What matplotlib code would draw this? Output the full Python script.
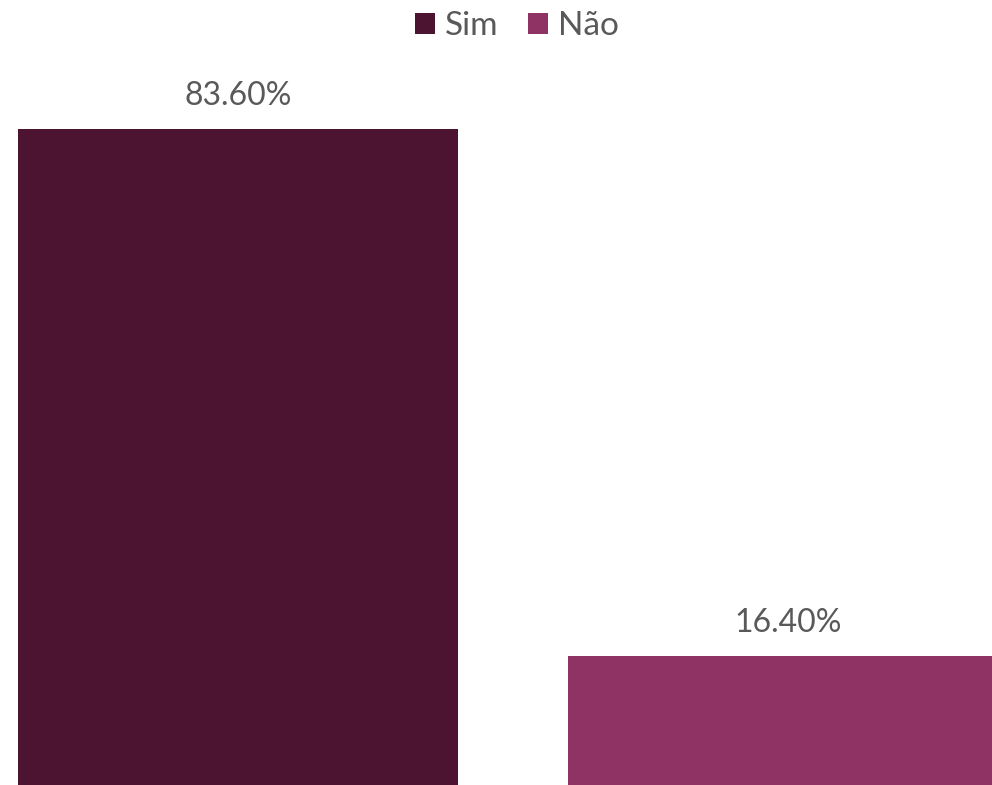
import matplotlib
matplotlib.use("Agg")
import matplotlib.pyplot as plt
from matplotlib.patches import Patch

plt.rcParams["font.family"] = ["Lato", "DejaVu Sans"]

categories = ["Sim", "Não"]
values = [83.6, 16.4]
colors = ["#4d1432", "#8e3363"]
text_color = "#595959"

fig = plt.figure(figsize=(9.92, 7.85), dpi=100)
ax = fig.add_axes([0, 0, 1, 1])

xs = list(range(len(categories)))
bars = ax.bar(xs, values, width=0.8, color=colors)

for x, v in zip(xs, values):
    ax.text(x, v + 2.3, f"{v:.2f}%", ha="center", va="bottom",
            fontsize=23, color=text_color)

ax.set_xlim(-0.4327, 1.3709)
ax.set_ylim(0, 100)
ax.axis("off")

handles = [Patch(facecolor=c, edgecolor="none") for c in colors]
ax.legend(handles, categories, loc="upper center", bbox_to_anchor=(0.521, 1.024),
          ncol=2, frameon=False, fontsize=24, labelcolor=text_color,
          handlelength=0.6, handleheight=0.6, handletextpad=0.3,
          columnspacing=0.9)

fig.savefig("out.png", dpi=100, facecolor="white")
